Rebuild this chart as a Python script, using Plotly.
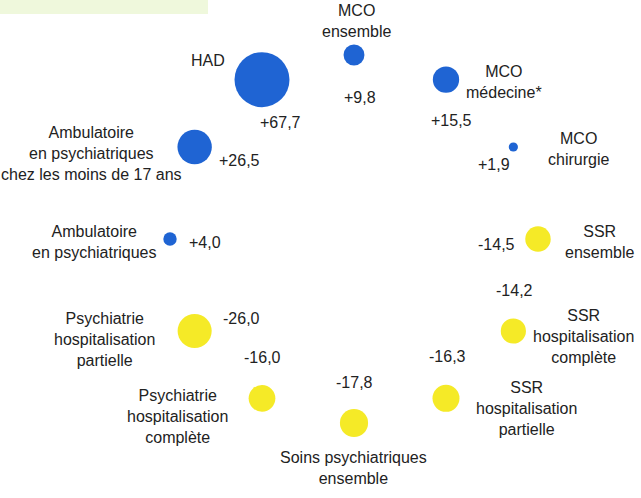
import numpy as np
import plotly.graph_objects as go

# Activity segments, clockwise from the top of the ring
categories = [
    "MCO<br>ensemble",
    "MCO<br>médecine*",
    "MCO<br>chirurgie",
    "SSR<br>ensemble",
    "SSR<br>hospitalisation<br>complète",
    "SSR<br>hospitalisation<br>partielle",
    "Soins psychiatriques<br>ensemble",
    "Psychiatrie<br>hospitalisation<br>complète",
    "Psychiatrie<br>hospitalisation<br>partielle",
    "Ambulatoire<br>en psychiatriques",
    "Ambulatoire<br>en psychiatriques<br>chez les moins de 17 ans",
    "HAD",
]
# Change in activity (%)
values = [9.8, 15.5, 1.9, -14.5, -14.2, -16.3, -17.8, -16.0, -26.0, 4.0, 26.5, 67.7]

BLUE = "#1f64d3"
YELLOW = "#f5ea27"
TEXT = "#222222"
FONT = "Liberation Sans, Arial, sans-serif"
FS = 16

W, H = 641, 498
CX, CY, R = 354, 239, 184  # ring centre and radius in pixels

n = len(categories)
ang = np.deg2rad(90 - 360 / n * np.arange(n))
xs = np.cos(ang)
ys = np.sin(ang)
colors = [BLUE if v >= 0 else YELLOW for v in values]
sizes = [abs(v) for v in values]

def fmt(v):
    s = f"{abs(v):.1f}".replace(".", ",")
    return ("+" if v >= 0 else "-") + s

fig = go.Figure()
fig.add_trace(go.Scatter(
    x=xs, y=ys, mode="markers",
    marker=dict(size=sizes, sizemode="area", sizeref=0.0448, opacity=1,
                color=colors, line=dict(width=0)),
    hoverinfo="skip", showlegend=False,
))

# pixel offsets (dx right, dy down) of the name and value labels from each bubble
name_off = [(2, -34), (58, 2), (65, 2), (61, 3), (70, 5), (80, 10),
            (-1, 45), (-85, 18), (-90, 8), (-76, 3), (-103, 6), (-54, -19)]
val_off = [(6, 42), (5, 41), (-19, 17), (-42, 5), (1, -41), (1, -42),
           (0, -41), (0, -41), (47, -13), (35, 3), (45, 13), (18, 43)]

ann = []
for i in range(n):
    dx, dy = name_off[i]
    ann.append(dict(x=xs[i], y=ys[i], xref="x", yref="y", text=categories[i],
                    showarrow=False, xshift=dx, yshift=-dy, align="center",
                    xanchor="center", yanchor="middle",
                    font=dict(family=FONT, size=FS, color=TEXT)))
    dx, dy = val_off[i]
    ann.append(dict(x=xs[i], y=ys[i], xref="x", yref="y", text=fmt(values[i]),
                    showarrow=False, xshift=dx, yshift=-dy,
                    xanchor="center", yanchor="middle",
                    font=dict(family=FONT, size=FS, color=TEXT)))

fig.update_layout(
    width=W, height=H,
    margin=dict(l=0, r=0, t=0, b=0),
    paper_bgcolor="white", plot_bgcolor="white",
    xaxis=dict(range=[-CX / R, (W - CX) / R], visible=False, fixedrange=True),
    yaxis=dict(range=[-(H - CY) / R, CY / R], visible=False, fixedrange=True),
    annotations=ann,
    shapes=[dict(type="rect", xref="paper", yref="paper",
                 x0=0, x1=208 / W, y0=1 - 14 / H, y1=1.02,
                 fillcolor="#eff8dc", line=dict(width=0), layer="below")],
)

fig.write_html("out.html")
